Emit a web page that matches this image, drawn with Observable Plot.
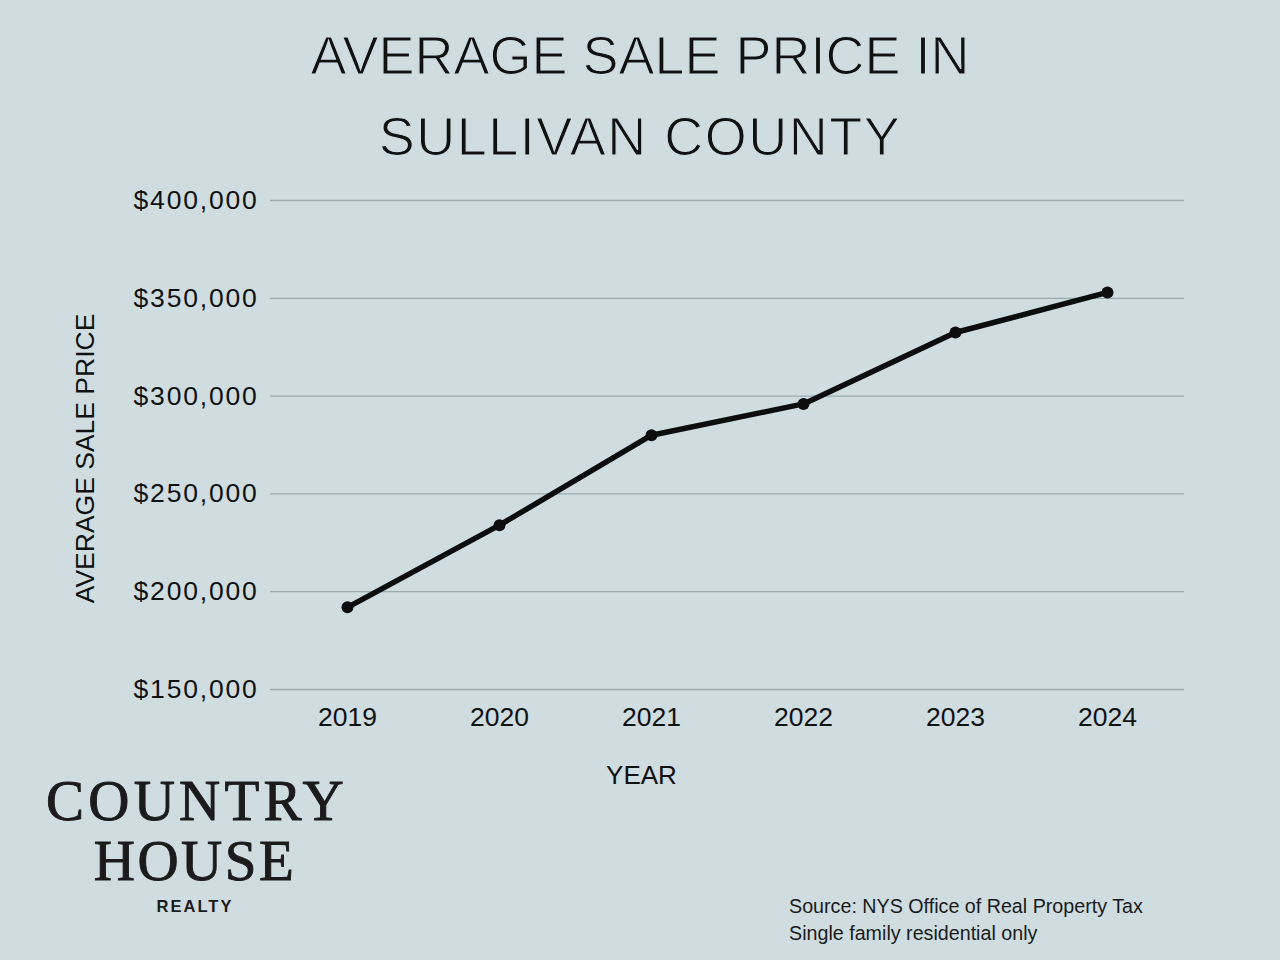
<!DOCTYPE html>
<html>
<head>
<meta charset="utf-8">
<script src="https://cdn.jsdelivr.net/npm/d3@7"></script>
<script src="https://cdn.jsdelivr.net/npm/@observablehq/plot@0.6"></script>
<style>
  html, body { margin: 0; padding: 0; background: #cfdde1; }
  #page { position: relative; width: 1280px; height: 960px; overflow: hidden; background: #cfdde1; color: #111; }
  #chart { position: absolute; left: 0; top: 0; }
  .title {
    position: absolute; left: 0; top: 15px; width: 1280px; text-align: center;
    font-family: "Liberation Sans", Arial, sans-serif; font-size: 54px; line-height: 81px;
    color: #111; -webkit-text-stroke: 1.2px #cfdde1;
  }
  .title .l2 { letter-spacing: 1.5px; }
  .logo {
    position: absolute; left: 0; width: 390px; text-align: center; color: #1c1a1a;
  }
  .logo .big {
    font-family: "Liberation Serif", "DejaVu Serif", serif; font-size: 57px; line-height: 60px;
    letter-spacing: 2.5px; -webkit-text-stroke: 0.9px #1c1a1a;
  }
  .logo .big .wide { letter-spacing: 4.2px; margin-left: 4px; }
  .logo.small {
    top: 898px; font-family: "Liberation Sans", Arial, sans-serif; font-weight: bold;
    font-size: 16.5px; line-height: 16.5px; letter-spacing: 2px;
  }
  .source {
    position: absolute; left: 789px; top: 893px;
    font-family: "Liberation Sans", Arial, sans-serif; font-size: 19.7px; line-height: 27px; color: #1a1a1a;
  }
</style>
</head>
<body>
<div id="page">
  <div id="chart"></div>
  <div class="title">AVERAGE SALE PRICE IN<br><span class="l2">SULLIVAN COUNTY</span></div>
  <div class="logo" style="top:771px"><div class="big"><span class="wide">COUNTRY</span><br>HOUSE</div></div>
  <div class="logo small">REALTY</div>
  <div class="source">Source: NYS Office of Real Property Tax<br>Single family residential only</div>
</div>
<script>
// Average sale price, single family residential, Sullivan County
const years = [2019, 2020, 2021, 2022, 2023, 2024];
const avgPrice = [192000, 234000, 280000, 296000, 332500, 353000];
const yTicks = [150000, 200000, 250000, 300000, 350000, 400000];
const yAxisTitle = "AVERAGE SALE PRICE";
const xAxisTitle = "YEAR";

const rows = years.map((year, i) => ({year, price: avgPrice[i]}));
const money = d => "$" + d3.format(",")(d);
const ink = "#0d0d0d";

const chart = Plot.plot({
  width: 1280,
  height: 960,
  marginTop: 200,
  marginBottom: 271,
  marginLeft: 270,
  marginRight: 96,
  style: {background: "transparent", fontFamily: "'Liberation Sans', Arial, sans-serif", color: "#111"},
  x: {type: "point", domain: years, padding: 0.5},
  y: {domain: [150000, 400000]},
  marks: [
    Plot.gridY(yTicks, {stroke: "#9aabb1", strokeOpacity: 1, strokeWidth: 1.3}),
    Plot.axisY(yTicks, {tickSize: 0, tickPadding: 12, tickFormat: money, fontSize: 26.5, label: null}),
    Plot.axisX({tickSize: 0, tickPadding: 18, fontSize: 26.5, tickFormat: d => String(d), label: null}),
    Plot.text([yAxisTitle], {frameAnchor: "left", textAnchor: "middle", lineAnchor: "middle", dx: -185, dy: 13.5, rotate: -90, fontSize: 26.5, fill: "#111"}),
    Plot.text([xAxisTitle], {frameAnchor: "bottom", lineAnchor: "middle", dx: -86, dy: 86, fontSize: 26, fill: "#111"}),
    Plot.line(rows, {x: "year", y: "price", stroke: ink, strokeWidth: 5.5, strokeLinejoin: "round"}),
    Plot.dot(rows, {x: "year", y: "price", r: 6, fill: ink, stroke: "none"})
  ]
});

d3.select(chart).selectAll('g[aria-label="y-axis tick label"] text').attr("letter-spacing", "1.8px");
document.getElementById("chart").appendChild(chart);
</script>
</body>
</html>
